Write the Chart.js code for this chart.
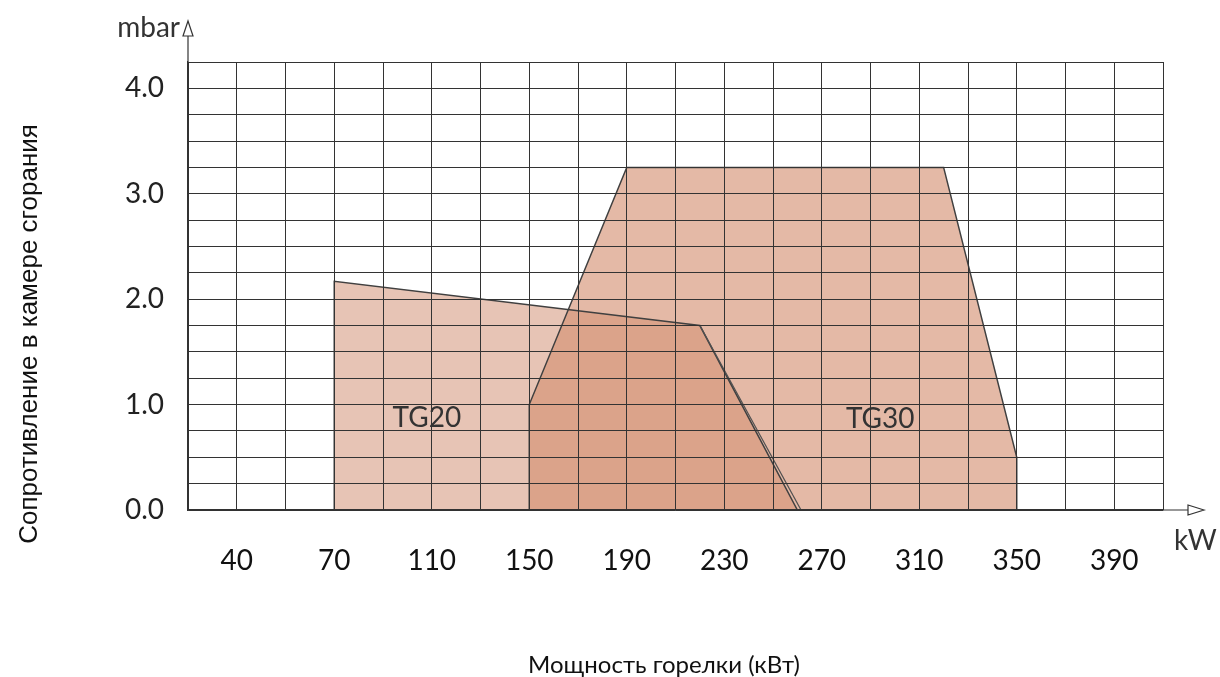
<!DOCTYPE html>
<html>
<head>
<meta charset="utf-8">
<script src="https://cdn.jsdelivr.net/npm/chart.js@4.4.1/dist/chart.umd.min.js"></script>
<style>
  body { margin: 0; background: #fff; }
  #wrap { width: 1220px; height: 677px; }
</style>
</head>
<body>
<div id="wrap"><canvas id="chart" width="1220" height="677"></canvas></div>
<script>
// x tick labels, placed every 2 grid cells starting at 30
const xLabels = ["40", "70", "110", "150", "190", "230", "270", "310", "350", "390"];
// working field outlines (kW, mbar)
const tg20 = [
  { x: 70, y: 0 }, { x: 70, y: 2.17 }, { x: 220, y: 1.75 }, { x: 260, y: 0 }
];
const tg30 = [
  { x: 150, y: 0 }, { x: 150, y: 1.0 }, { x: 190, y: 3.25 },
  { x: 320, y: 3.25 }, { x: 350, y: 0.5 }, { x: 350, y: 0 }
];
const tg30Edge = [{ x: 220, y: 1.75 }, { x: 261.5, y: 0 }];
const fieldLabels = [
  { text: "TG20", x: 108, y: 0.87 },
  { text: "TG30", x: 294, y: 0.86 }
];
const xTitle = "Мощность горелки (кВт)";
const yTitle = "Сопротивление в камере сгорания";

const ink = "#333333";

const extras = {
  id: "extras",
  afterDraw(chart) {
    const ctx = chart.ctx;
    const xs = chart.scales.x, ys = chart.scales.y;
    const x0 = xs.left, y0 = ys.bottom;
    ctx.save();
    ctx.strokeStyle = ink;
    ctx.lineWidth = 1.2;
    // y axis with arrow
    ctx.beginPath();
    ctx.moveTo(x0, y0);
    ctx.lineTo(x0, 36);
    ctx.stroke();
    ctx.beginPath();
    ctx.moveTo(x0, 21);
    ctx.lineTo(x0 - 5, 36);
    ctx.lineTo(x0 + 5, 36);
    ctx.closePath();
    ctx.fillStyle = "#fff";
    ctx.fill();
    ctx.stroke();
    // x axis with arrow
    ctx.beginPath();
    ctx.moveTo(x0, y0);
    ctx.lineTo(1188, y0);
    ctx.stroke();
    ctx.beginPath();
    ctx.moveTo(1204, y0);
    ctx.lineTo(1188, y0 - 5);
    ctx.lineTo(1188, y0 + 5);
    ctx.closePath();
    ctx.fill();
    ctx.stroke();
    // unit labels
    ctx.fillStyle = ink;
    ctx.font = "28px Lato";
    ctx.textBaseline = "middle";
    ctx.textAlign = "right";
    ctx.fillText("mbar", x0 - 8, 28);
    ctx.textAlign = "left";
    ctx.fillText("kW", 1174, 541);
    // field labels
    ctx.textAlign = "center";
    fieldLabels.forEach(function (l) {
      ctx.fillText(l.text, xs.getPixelForValue(l.x), ys.getPixelForValue(l.y));
    });
    // axis titles
    ctx.fillStyle = "#111";
    ctx.font = "24px Lato";
    ctx.fillText(xTitle, 664, 665);
    ctx.translate(30, 334);
    ctx.rotate(-Math.PI / 2);
    ctx.font = "26px 'Liberation Sans'";
    ctx.fillText(yTitle, 0, 0);
    ctx.restore();
  }
};

new Chart(document.getElementById("chart"), {
  type: "scatter",
  data: {
    datasets: [
      {
        label: "TG20",
        data: tg20,
        order: 2,
        showLine: true,
        fill: "origin",
        backgroundColor: "rgb(231,196,181)",
        borderColor: "#404040",
        borderWidth: 1.5,
        pointRadius: 0,
        tension: 0
      },
      {
        label: "TG30",
        data: tg30,
        order: 1,
        showLine: true,
        fill: "origin",
        backgroundColor: "rgba(211,142,111,0.62)",
        borderColor: "#404040",
        borderWidth: 1.5,
        pointRadius: 0,
        tension: 0
      },
      {
        label: "edge",
        data: tg30Edge,
        order: 0,
        showLine: true,
        fill: false,
        borderColor: "#505050",
        borderWidth: 1.2,
        pointRadius: 0
      }
    ]
  },
  options: {
    responsive: false,
    animation: false,
    layout: { padding: { left: 15, top: 62, right: 57, bottom: 2 } },
    plugins: {
      legend: { display: false },
      tooltip: { enabled: false },
      filler: { drawTime: "beforeDatasetsDraw" }
    },
    scales: {
      x: {
        type: "linear",
        min: 10,
        max: 410,
        z: 1,
        afterFit(scale) { scale.height = 165; },
        grid: { color: ink, lineWidth: 1, drawTicks: false, z: 1 },
        border: { display: true, color: ink, width: 1.2, z: 1 },
        ticks: {
          stepSize: 20,
          autoSkip: false,
          maxRotation: 0,
          padding: 34,
          color: "#111",
          font: { family: "Lato", size: 28 },
          callback: function (v) {
            const i = (v - 30) / 40;
            return Number.isInteger(i) && i >= 0 && i < xLabels.length ? xLabels[i] : "";
          }
        }
      },
      y: {
        min: 0,
        max: 4.25,
        z: 1,
        afterFit(scale) { scale.width = 173; },
        grid: { color: ink, lineWidth: 1, drawTicks: false, z: 1 },
        border: { display: true, color: ink, width: 1.2, z: 1 },
        ticks: {
          stepSize: 0.25,
          autoSkip: false,
          padding: 24,
          color: "#222",
          font: { family: "Lato", size: 28 },
          callback: function (v) {
            return v % 1 === 0 ? v.toFixed(1) : "";
          }
        }
      }
    }
  },
  plugins: [extras]
});
</script>
</body>
</html>
